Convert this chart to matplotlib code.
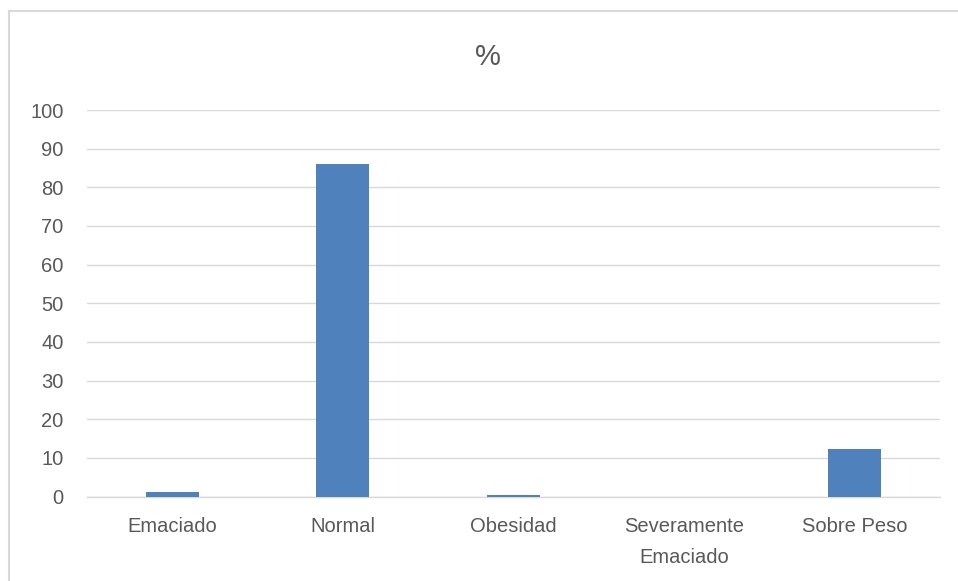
import matplotlib.pyplot as plt
from matplotlib.lines import Line2D
import numpy as np

# datos
categorias = ['Emaciado', 'Normal', 'Obesidad', 'Severamente\nEmaciado', 'Sobre Peso']
porcentajes = [1.2, 86.0, 0.5, 0.0, 12.4]
ticks_y = [0, 10, 20, 30, 40, 50, 60, 70, 80, 90, 100]

GRIS_TEXTO = '#595959'
AZUL = '#4f81bd'

plt.rcParams['font.family'] = ['Liberation Sans', 'DejaVu Sans']

fig = plt.figure(figsize=(9.58, 5.81), dpi=100)
ax = fig.add_axes([87 / 958, 1 - 496.5 / 581, (940 - 87) / 958, (496.5 - 110) / 581])

x = np.arange(len(categorias))
ax.bar(x, porcentajes, width=0.31, color=AZUL, zorder=3)

ax.set_xlim(-0.5, len(categorias) - 0.5)
ax.set_ylim(0, 100)
ax.set_yticks(ticks_y)
ax.set_xticks(x)
ax.set_xticklabels(categorias, fontsize=14.5, color=GRIS_TEXTO, linespacing=1.75)
ax.tick_params(axis='y', labelsize=14.5, labelcolor=GRIS_TEXTO, length=0, pad=17)
ax.tick_params(axis='x', length=0, pad=15)
ax.grid(axis='y', color='#d9d9d9', linewidth=1, zorder=0)
for lado in ['top', 'right', 'left']:
    ax.spines[lado].set_visible(False)
ax.spines['bottom'].set_color('#d9d9d9')
ax.spines['bottom'].set_linewidth(1)

fig.text(488 / 958, 1 - 57 / 581, '%', ha='center', va='center', fontsize=21, color=GRIS_TEXTO)

# marco exterior del grafico
fig.add_artist(Line2D([9 / 958, 1], [1 - 11 / 581, 1 - 11 / 581], color='#d9d9d9', linewidth=1.5))
fig.add_artist(Line2D([9 / 958, 9 / 958], [0, 1 - 11 / 581], color='#d9d9d9', linewidth=1.5))

fig.savefig('out.png', dpi=100)
